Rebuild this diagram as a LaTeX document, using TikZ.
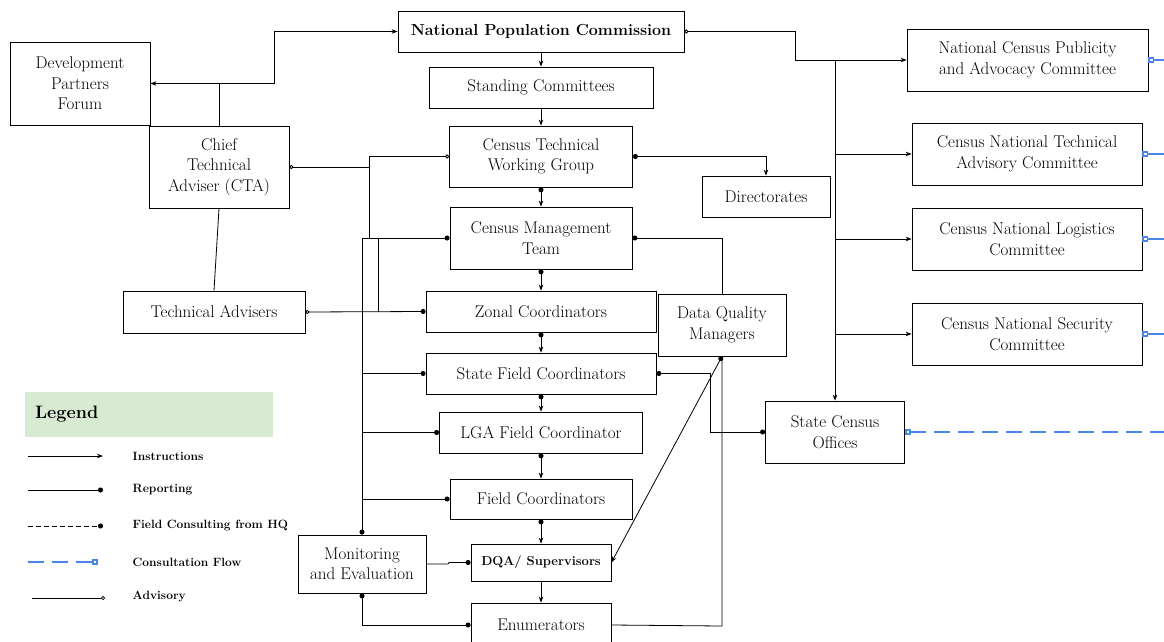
\documentclass[tikz,border=0pt]{standalone}
\usepackage{tikz}
\usetikzlibrary{arrows.meta}

\definecolor{legendgreen}{HTML}{D9EAD3}
\definecolor{flowblue}{HTML}{4A86E8}

\begin{document}
\begin{tikzpicture}[x=1pt, y=-1pt, line width=0.8pt,
	font=\fontsize{17}{20.5}\selectfont,
	box/.style={draw, inner sep=0pt, align=center},
	instr/.style={-{Stealth[length=6pt,width=4.5pt]}},
	report/.style={-{Circle[length=5pt]}},
	repinstr/.style={{Circle[length=5pt]}-{Stealth[length=6pt,width=4.5pt]}},
	tworep/.style={{Circle[length=5pt]}-{Circle[length=5pt]}},
	advis/.style={{Circle[open,length=4pt]}-},
	consult/.style={flowblue, line width=1.6pt, {Square[open,length=6pt,width=6pt]}-},
	legtext/.style={anchor=west, font=\fontsize{12}{14}\selectfont\bfseries}]
		\useasboundingbox (0,0) rectangle (1164,642);
		%% boxes
		\node[box, minimum width=140pt, minimum height=83pt] (dpf) at (80,83.5) {Development\\Partners\\Forum};
		\node[box, minimum width=140pt, minimum height=82pt] (cta) at (219,167) {Chief\\Technical\\Adviser (CTA)};
		\node[box, minimum width=182pt, minimum height=42pt] (ta) at (214,312) {Technical Advisers};
		\node[box, minimum width=286pt, minimum height=41pt, font=\fontsize{16}{19}\selectfont\bfseries] (npc) at (541,31.5) {National Population Commission};
		\node[box, minimum width=224pt, minimum height=41pt] (stc) at (541,87.5) {Standing Committees};
		\node[box, minimum width=183pt, minimum height=61pt] (ctwg) at (541,156.5) {Census Technical\\Working Group};
		\node[box, minimum width=128pt, minimum height=41pt] (dir) at (766,196.5) {Directorates};
		\node[box, minimum width=182pt, minimum height=62pt] (cmt) at (541,238) {Census Management\\Team};
		\node[box, minimum width=230pt, minimum height=41pt] (zonal) at (541,311.5) {Zonal Coordinators};
		\node[box, minimum width=230pt, minimum height=41pt] (sfc) at (541,373.5) {State Field Coordinators};
		\node[box, minimum width=203pt, minimum height=41pt] (lga) at (541,432.5) {LGA Field Coordinator};
		\node[box, minimum width=182pt, minimum height=40pt] (fc) at (541,499) {Field Coordinators};
		\node[box, minimum width=140pt, minimum height=37pt, font=\fontsize{13}{15}\selectfont\bfseries] (dqa) at (541,562.5) {DQA/ Supervisors};
		\node[box, minimum width=140pt, minimum height=44pt] (enum) at (541,625) {Enumerators};
		\node[box, minimum width=128pt, minimum height=58pt] (me) at (362,564) {Monitoring\\and Evaluation};
		\node[box, minimum width=128pt, minimum height=62pt] (dqm) at (722,325) {Data Quality\\Managers};
		\node[box, minimum width=241pt, minimum height=62pt] (ncpac) at (1027.5,60) {National Census Publicity\\and Advocacy Committee};
		\node[box, minimum width=230pt, minimum height=62pt] (cntac) at (1027,154) {Census National Technical\\Advisory Committee};
		\node[box, minimum width=230pt, minimum height=62pt] (cnlc) at (1027,239) {Census National Logistics\\Committee};
		\node[box, minimum width=230pt, minimum height=62pt] (cnsc) at (1027,334) {Census National Security\\Committee};
		\node[box, minimum width=139pt, minimum height=62pt] (sco) at (835,432) {State Census\\Offices};
		%% junctions
		\coordinate (jcta) at (274,83.5);
		\coordinate (jnpc) at (795,31.5);
		\coordinate (bus) at (835,60);
		\coordinate (jadv) at (369,238);
		\coordinate (spine) at (362,238);
		\coordinate (jrect) at (378,238);
		\coordinate (jsfc) at (710,373.5);
		\coordinate (jenum) at (722,626);
		\coordinate (jme) at (448,564);
		\coordinate (e1) at (1164,60);
		\coordinate (e2) at (1164,154);
		\coordinate (e3) at (1164,239);
		\coordinate (e4) at (1164,334);
		\coordinate (e5) at (1164,432);
		%% top part
		\draw[instr] (cta.north) -- (cta.north |- dpf.east) -- (dpf.east);
		\draw[instr] (cta.north |- dpf.east) -- (jcta) |- (npc.west);
		\draw (cta.south) -- (ta.north);
		\draw[instr] (npc.south) -- (stc.north);
		\draw[instr] (stc.south) -- (ctwg.north);
		\draw[{Circle[open,length=4pt]}-{Stealth[length=6pt,width=4.5pt]}] (npc.east) -- (jnpc) |- (ncpac.west);
		\draw[instr] (bus) -- (sco.north);
		\draw[instr] (bus |- cntac.west) -- (cntac.west);
		\draw[instr] (bus |- cnlc.west) -- (cnlc.west);
		\draw[instr] (bus |- cnsc.west) -- (cnsc.west);
		\draw[repinstr] (ctwg.east) -| (dir.north);
		\draw[advis] (ctwg.west) -| (jadv);
		\draw[advis] (cta.east) -- (cta.east -| jadv);
		%% the chain
		\draw[repinstr] (ctwg.south) -- (cmt.north);
		\draw[repinstr] (cmt.south) -- (zonal.north);
		\draw[repinstr] (zonal.south) -- (sfc.north);
		\draw[repinstr] (sfc.south) -- (lga.north);
		\draw[repinstr] (lga.south) -- (fc.north);
		\draw[repinstr] (fc.south) -- (dqa.north);
		\draw[instr] (dqa.south) -- (enum.north);
		%% reporting lines on the left
		\draw[report] (spine) -- (cmt.west);
		\draw[report] (spine) -- (me.north);
		\draw[report] (spine |- sfc.west) -- (sfc.west);
		\draw[report] (spine |- lga.west) -- (lga.west);
		\draw[report] (spine |- fc.west) -- (fc.west);
		\draw (jrect) -- (jrect |- ta.east);
		\draw[{Circle[open,length=4pt]}-{Circle[length=5pt]}] (ta.east) -- (zonal.west);
		\draw[report] (me.east) -- (jme) -- ++(1,-1.5) -- (dqa.west);
		\draw[tworep] (me.south) |- (enum.west);
		%% data quality managers
		\draw (enum.east) -- (jenum) -- (dqm.south);
		\draw[report] (dqm.north) |- (cmt.east);
		\draw[repinstr] (dqm.south) -- (dqa.east);
		\draw[tworep] (sfc.east) -- (jsfc) |- (sco.west);
		%% consultation
		\draw[consult] (ncpac.east) -- (e1);
		\draw[consult] (cntac.east) -- (e2);
		\draw[consult] (cnlc.east) -- (e3);
		\draw[consult] (cnsc.east) -- (e4);
		\draw[consult, dash pattern=on 16pt off 8pt] (sco.east) -- (e5);
		%% legend
		\node[fill=legendgreen, minimum height=45pt, text width=228pt, inner xsep=10pt, align=left, font=\fontsize{18}{20}\selectfont\bfseries] (leg) at (149,414.5) {Legend};
		\coordinate (l1a) at (28,456); \coordinate (l1b) at (103,456);
		\coordinate (l2a) at (28,490); \coordinate (l2b) at (103,490);
		\coordinate (l3a) at (28,526); \coordinate (l3b) at (103,526);
		\coordinate (l4a) at (28,562); \coordinate (l4b) at (98,562);
		\coordinate (l5a) at (32,598); \coordinate (l5b) at (105,598);
		\draw[instr] (l1a) -- (l1b);
		\draw[report] (l2a) -- (l2b);
		\draw[report, dash pattern=on 5pt off 3pt] (l3a) -- (l3b);
		\draw[flowblue, line width=1.6pt, dash pattern=on 16pt off 8pt, -{Square[open,length=6pt,width=6pt]}] (l4a) -- (l4b);
		\draw[{Circle[open,length=4pt]}-] (l5b) -- (l5a);
		\node[legtext] (t1) at (129,456) {Instructions};
		\node[legtext] (t2) at (129,490) {Reporting};
		\node[legtext] (t3) at (129,526) {Field Consulting from HQ};
		\node[legtext] (t4) at (129,562) {Consultation Flow};
		\node[legtext] (t5) at (129,596) {Advisory};
\end{tikzpicture}
\end{document}
